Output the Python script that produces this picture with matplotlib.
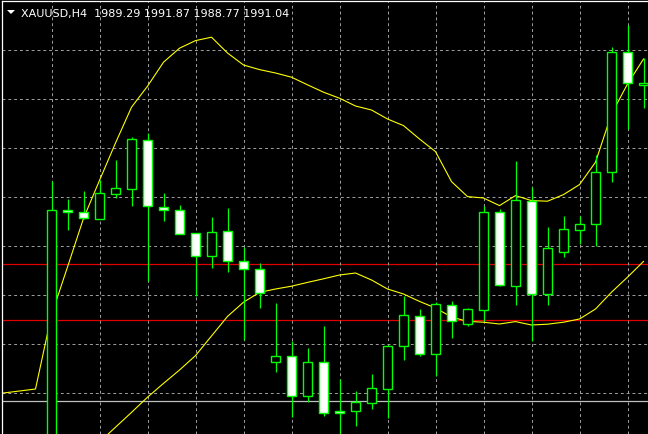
import numpy as np
import matplotlib
matplotlib.use("Agg")
import matplotlib.pyplot as plt
from matplotlib.patches import Polygon

# XAUUSD H4 bars
opens = [1971.50, 1984.70, 1984.62, 1984.27, 1985.52, 1985.77, 1988.19, 1984.87, 1984.70, 1983.54,
         1982.39, 1983.64, 1982.14, 1981.74, 1977.09, 1977.39, 1975.39, 1977.09, 1974.65, 1974.64,
         1975.05, 1975.75, 1977.90, 1979.42, 1977.49, 1979.97, 1978.99, 1979.72, 1984.59, 1980.92,
         1985.17, 1980.50, 1982.59, 1983.72, 1983.99, 1986.62, 1992.59, 1990.94]
highs = [1986.13, 1985.25, 1985.67, 1986.20, 1987.20, 1988.34, 1988.54, 1985.55, 1984.95, 1983.55,
         1984.34, 1984.80, 1982.84, 1982.04, 1980.04, 1978.14, 1977.79, 1978.90, 1976.25, 1975.64,
         1976.50, 1977.95, 1980.39, 1979.75, 1980.10, 1980.15, 1979.82, 1984.92, 1984.75, 1987.17,
         1985.84, 1983.84, 1984.39, 1984.39, 1987.45, 1992.84, 1993.95, 1992.29]
lows = [1971.00, 1983.72, 1984.25, 1984.25, 1985.32, 1984.92, 1981.17, 1984.17, 1983.50, 1980.42,
        1981.79, 1981.59, 1978.20, 1979.80, 1976.62, 1974.34, 1975.12, 1974.39, 1973.00, 1973.92,
        1974.75, 1974.29, 1977.22, 1977.40, 1976.42, 1978.29, 1978.92, 1979.17, 1980.89, 1979.95,
        1978.17, 1979.95, 1982.34, 1983.00, 1982.89, 1986.09, 1988.75, 1989.80]
closes = [1984.70, 1984.58, 1984.29, 1985.54, 1985.79, 1988.24, 1984.89, 1984.69, 1983.52, 1982.40,
          1983.59, 1982.14, 1981.75, 1980.54, 1977.39, 1975.39, 1977.09, 1974.54, 1974.55, 1975.12,
          1975.79, 1977.89, 1979.44, 1977.49, 1979.98, 1979.15, 1979.75, 1984.59, 1980.94, 1985.20,
          1980.50, 1982.79, 1983.74, 1983.99, 1986.59, 1992.59, 1991.04, 1991.04]

# upper band starts three bars earlier (those bars sit below the window)
upper_start = -3
upper_band = [1975.55, 1975.65, 1975.75,
              1979.45, 1981.85, 1984.28, 1986.18, 1988.05, 1989.84, 1990.89, 1992.09, 1992.79, 1993.17,
              1993.34, 1992.55, 1991.95, 1991.72, 1991.55, 1991.34, 1990.96, 1990.59, 1990.29, 1989.90,
              1989.70, 1989.25, 1988.92, 1988.25, 1987.62, 1986.12, 1985.37, 1985.30, 1984.92, 1985.42,
              1985.17, 1985.14, 1985.47, 1985.97, 1987.09, 1989.50, 1991.00, 1992.25]
lower_start = 2
lower_band = [1972.35, 1973.10, 1973.84, 1974.58, 1975.34, 1976.03, 1976.70, 1977.42, 1978.40,
              1979.38, 1980.09, 1980.58, 1980.75, 1980.89, 1981.08, 1981.26, 1981.45, 1981.55, 1981.20,
              1980.75, 1980.50, 1980.13, 1979.80, 1979.35, 1979.13, 1979.09, 1979.00, 1979.12, 1978.95,
              1978.99, 1979.09, 1979.25, 1979.75, 1980.59, 1981.34, 1982.13]

red_levels = [1982.00, 1979.20]
grey_level = 1975.14
grid_prices = [1992.72, 1990.27, 1987.82, 1985.37, 1982.92, 1980.47, 1978.02, 1975.57]

header = "XAUUSD,H4  1989.29 1991.87 1988.77 1991.04"

GREEN = "#00FF00"

fig = plt.figure(figsize=(6.48, 4.35), dpi=100, facecolor="black")
ax = fig.add_axes([2 / 648, 0, 646 / 648, 433 / 435], facecolor="black")

o = np.array(opens)
c = np.array(closes)
x = np.arange(len(o))
bull = c >= o

ax.vlines(x, lows, highs, color=GREEN, lw=0.9, zorder=3)
bottoms = np.minimum(o, c)
heights = np.abs(c - o)
ax.bar(x[bull], heights[bull], bottom=bottoms[bull], width=0.6,
       facecolor="black", edgecolor=GREEN, lw=1.0, zorder=4)
ax.bar(x[~bull], heights[~bull], bottom=bottoms[~bull], width=0.6,
       facecolor="white", edgecolor=GREEN, lw=1.0, zorder=4)

ux = np.arange(upper_start, upper_start + len(upper_band))
lx = np.arange(lower_start, lower_start + len(lower_band))
ax.plot(ux, upper_band, color="#FFFF00", lw=0.8, zorder=2)
ax.plot(lx, lower_band, color="#FFFF00", lw=0.8, zorder=2)

for lvl in red_levels:
    ax.axhline(lvl, color="#E00000", lw=0.9, zorder=1)
ax.axhline(grey_level, color="#C0C0C0", lw=0.9, zorder=1)

ax.set_xlim(-3.094, 37.281)
ax.set_ylim(1973.50, 1995.15)
ax.set_xticks(np.arange(0, 37, 3))
ax.set_yticks(grid_prices)
ax.grid(True, color="#A0A0A0", lw=0.7, ls=(0, (3, 3)), zorder=0)
ax.tick_params(length=0, labelbottom=False, labelleft=False)
for side in ["right", "bottom"]:
    ax.spines[side].set_visible(False)
for side in ["top", "left"]:
    ax.spines[side].set_color("white")
    ax.spines[side].set_linewidth(0.9)

fig.text(21 / 648, 1 - 16.7 / 435, header, color="white", fontsize=8,
         family="DejaVu Sans", va="baseline", ha="left")
tri = Polygon([[7 / 648, 1 - 11 / 435], [15 / 648, 1 - 11 / 435], [11 / 648, 1 - 15 / 435]],
              closed=True, transform=fig.transFigure, facecolor="white", edgecolor="none")
fig.patches.append(tri)

fig.savefig("out.png", dpi=100, facecolor="black")
